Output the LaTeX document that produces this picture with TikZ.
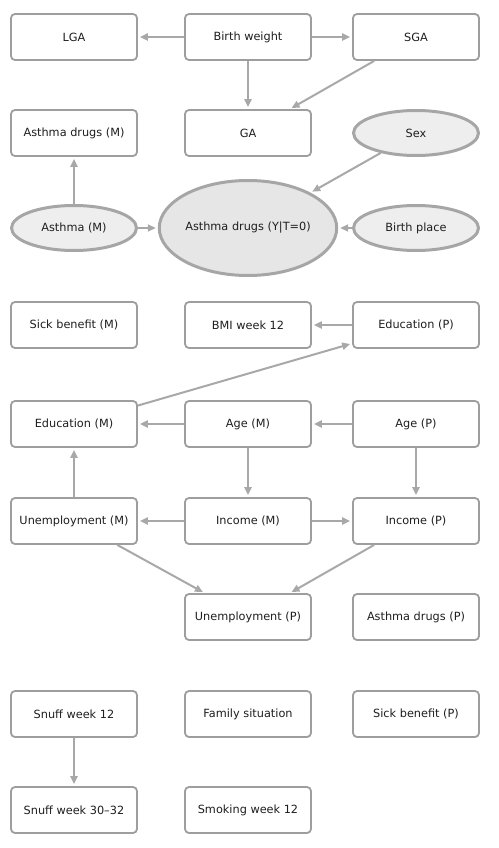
\documentclass[tikz,border=0pt]{standalone}
\usepackage{fontspec}
\setmainfont{DejaVu Sans}
\usepackage{tikz}
\usetikzlibrary{shapes.geometric, arrows.meta, positioning}
\definecolor{boxgray}{HTML}{9E9E9E}
\definecolor{ringgray}{HTML}{A6A6A6}
\definecolor{ellfill}{HTML}{EEEEEE}
\definecolor{bigfill}{HTML}{E6E6E6}
\definecolor{edgegray}{HTML}{A8A8A8}
\definecolor{txtgray}{HTML}{1E1E1E}

\begin{document}
\begin{tikzpicture}[
  x=1pt, y=-1pt,
  var/.style={rectangle, draw=boxgray, line width=1.8pt, fill=white, rounded corners=4pt, minimum width=126pt, minimum height=46pt, font=\fontsize{11.3}{13}\selectfont, text=txtgray, inner sep=0pt},
  obs/.style={ellipse, draw=ringgray, line width=3pt, fill=ellfill, minimum width=125pt, minimum height=45pt, font=\fontsize{11.3}{13}\selectfont, text=txtgray, inner sep=0pt},
  link/.style={draw=edgegray, line width=2pt, -{Triangle[length=8pt, width=7pt]}, shorten >=2pt},
]
\useasboundingbox (0,0) rectangle (498,848);

% row 1
\node[var] (lga) at (74,37) {LGA};
\node[var] (bw) at (248,37) {Birth weight};
\node[var] (sga) at (416,37) {SGA};
% row 2
\node[var] (drugsm) at (74,133) {Asthma drugs (M)};
\node[var] (ga) at (248,133) {GA};
\node[obs] (sex) at (416,133) {Sex};
% row 3
\node[obs] (asthmam) at (74,228) {Asthma (M)};
\node[obs, minimum width=146pt, minimum height=95pt, fill=bigfill] (y) at (248,228) {Asthma drugs (Y|T=0)};
\node[obs] (bplace) at (416,228) {Birth place};
% row 4
\node[var] (sickm) at (74,325) {Sick benefit (M)};
\node[var] (bmi) at (248,325) {BMI week 12};
\node[var] (edup) at (416,325) {Education (P)};
% row 5
\node[var] (edum) at (74,424) {Education (M)};
\node[var] (agem) at (248,424) {Age (M)};
\node[var] (agep) at (416,424) {Age (P)};
% row 6
\node[var] (unempm) at (74,521) {Unemployment (M)};
\node[var] (incm) at (248,521) {Income (M)};
\node[var] (incp) at (416,521) {Income (P)};
% row 7
\node[var] (unempp) at (248,617) {Unemployment (P)};
\node[var] (drugsp) at (416,617) {Asthma drugs (P)};
% row 8
\node[var] (snuff12) at (74,714) {Snuff week 12};
\node[var] (family) at (248,714) {Family situation};
\node[var] (sickp) at (416,714) {Sick benefit (P)};
% row 9
\node[var] (snuff30) at (74,810) {Snuff week 30--32};
\node[var] (smoke) at (248,810) {Smoking week 12};

\draw[link] (bw) -- (lga);
\draw[link] (bw) -- (sga);
\draw[link] (bw) -- (ga);
\draw[link] (sga) -- (ga);
\draw[link] (asthmam) -- (drugsm);
\draw[link] (asthmam) -- (y);
\draw[link] (sex) -- (y);
\draw[link] (bplace) -- (y);
\draw[link] (edup) -- (bmi);
\draw[link] (edum) -- (edup);
\draw[link] (agem) -- (edum);
\draw[link] (agep) -- (agem);
\draw[link] (agem) -- (incm);
\draw[link] (agep) -- (incp);
\draw[link] (unempm) -- (edum);
\draw[link] (incm) -- (unempm);
\draw[link] (incm) -- (incp);
\draw[link] (unempm) -- (unempp);
\draw[link] (incp) -- (unempp);
\draw[link] (snuff12) -- (snuff30);
\end{tikzpicture}
\end{document}
